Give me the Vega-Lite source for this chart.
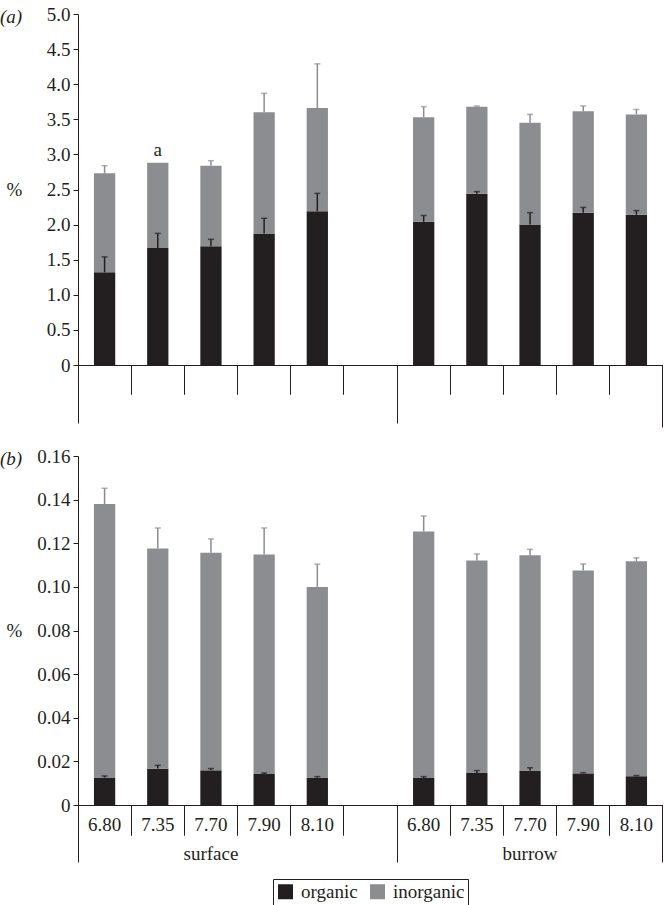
{
  "$schema": "https://vega.github.io/schema/vega-lite/v6.json",
  "background": "white",
  "padding": {"left": 0, "top": 5, "right": 0, "bottom": 0},
  "spacing": 19,
  "config": {
    "font": "Liberation Serif",
    "view": {"stroke": null},
    "axis": {"labelFont": "Liberation Serif", "labelFontSize": 19, "labelColor": "#231f20", "domainColor": "#231f20", "tickColor": "#231f20", "grid": false, "titleFont": "Liberation Serif", "titleFontWeight": "normal", "titleFontSize": 19, "titleColor": "#231f20", "labelOverlap": false},
    "title": {"font": "Liberation Serif", "fontSize": 19, "fontWeight": "normal", "fontStyle": "italic", "color": "#231f20"},
    "tick": {"thickness": 1.5}
  },
  "datasets": {
    "carbonA": [
      {"slot": "surface|6.80", "component": "organic", "lo": 0, "hi": 1.32, "err": 1.54},
      {"slot": "surface|6.80", "component": "inorganic", "lo": 1.32, "hi": 2.73, "err": 2.84},
      {"slot": "surface|7.35", "component": "organic", "lo": 0, "hi": 1.665, "err": 1.875},
      {"slot": "surface|7.35", "component": "inorganic", "lo": 1.665, "hi": 2.88},
      {"slot": "surface|7.70", "component": "organic", "lo": 0, "hi": 1.69, "err": 1.79},
      {"slot": "surface|7.70", "component": "inorganic", "lo": 1.69, "hi": 2.84, "err": 2.91},
      {"slot": "surface|7.90", "component": "organic", "lo": 0, "hi": 1.875, "err": 2.09},
      {"slot": "surface|7.90", "component": "inorganic", "lo": 1.875, "hi": 3.6, "err": 3.87},
      {"slot": "surface|8.10", "component": "organic", "lo": 0, "hi": 2.19, "err": 2.445},
      {"slot": "surface|8.10", "component": "inorganic", "lo": 2.19, "hi": 3.66, "err": 4.29},
      {"slot": "burrow|6.80", "component": "organic", "lo": 0, "hi": 2.04, "err": 2.13},
      {"slot": "burrow|6.80", "component": "inorganic", "lo": 2.04, "hi": 3.53, "err": 3.68},
      {"slot": "burrow|7.35", "component": "organic", "lo": 0, "hi": 2.44, "err": 2.47},
      {"slot": "burrow|7.35", "component": "inorganic", "lo": 2.44, "hi": 3.68, "err": 3.69},
      {"slot": "burrow|7.70", "component": "organic", "lo": 0, "hi": 2.0, "err": 2.17},
      {"slot": "burrow|7.70", "component": "inorganic", "lo": 2.0, "hi": 3.45, "err": 3.57},
      {"slot": "burrow|7.90", "component": "organic", "lo": 0, "hi": 2.17, "err": 2.245},
      {"slot": "burrow|7.90", "component": "inorganic", "lo": 2.17, "hi": 3.615, "err": 3.69},
      {"slot": "burrow|8.10", "component": "organic", "lo": 0, "hi": 2.14, "err": 2.2},
      {"slot": "burrow|8.10", "component": "inorganic", "lo": 2.14, "hi": 3.57, "err": 3.64}
    ],
    "carbonB": [
      {"slot": "surface|6.80", "component": "organic", "lo": 0, "hi": 0.0126, "err": 0.0133},
      {"slot": "surface|6.80", "component": "inorganic", "lo": 0.0126, "hi": 0.138, "err": 0.1452},
      {"slot": "surface|7.35", "component": "organic", "lo": 0, "hi": 0.0167, "err": 0.0182},
      {"slot": "surface|7.35", "component": "inorganic", "lo": 0.0167, "hi": 0.1176, "err": 0.127},
      {"slot": "surface|7.70", "component": "organic", "lo": 0, "hi": 0.0159, "err": 0.0167},
      {"slot": "surface|7.70", "component": "inorganic", "lo": 0.0159, "hi": 0.1157, "err": 0.122},
      {"slot": "surface|7.90", "component": "organic", "lo": 0, "hi": 0.0142, "err": 0.0147},
      {"slot": "surface|7.90", "component": "inorganic", "lo": 0.0142, "hi": 0.1148, "err": 0.127},
      {"slot": "surface|8.10", "component": "organic", "lo": 0, "hi": 0.0126, "err": 0.013},
      {"slot": "surface|8.10", "component": "inorganic", "lo": 0.0126, "hi": 0.1, "err": 0.1104},
      {"slot": "burrow|6.80", "component": "organic", "lo": 0, "hi": 0.0124, "err": 0.013},
      {"slot": "burrow|6.80", "component": "inorganic", "lo": 0.0124, "hi": 0.1254, "err": 0.1325},
      {"slot": "burrow|7.35", "component": "organic", "lo": 0, "hi": 0.0147, "err": 0.0158},
      {"slot": "burrow|7.35", "component": "inorganic", "lo": 0.0147, "hi": 0.1121, "err": 0.1151},
      {"slot": "burrow|7.70", "component": "organic", "lo": 0, "hi": 0.0158, "err": 0.0171},
      {"slot": "burrow|7.70", "component": "inorganic", "lo": 0.0158, "hi": 0.1145, "err": 0.1172},
      {"slot": "burrow|7.90", "component": "organic", "lo": 0, "hi": 0.0145, "err": 0.0148},
      {"slot": "burrow|7.90", "component": "inorganic", "lo": 0.0145, "hi": 0.1075, "err": 0.1105},
      {"slot": "burrow|8.10", "component": "organic", "lo": 0, "hi": 0.0132, "err": 0.0135},
      {"slot": "burrow|8.10", "component": "inorganic", "lo": 0.0132, "hi": 0.1117, "err": 0.1133}
    ],
    "notesA": [
      {"slot": "surface|7.35", "y": 2.88, "note": "a"}
    ]
  },
  "vconcat": [
    {
      "width": 585,
      "height": 351,
      "title": {"text": "(a)", "anchor": "start", "frame": "group", "dx": -78, "baseline": "middle", "offset": 0, "dy": 31},
      "data": {"name": "carbonA"},
      "resolve": {"axis": {"x": "independent"}},
      "layer": [
        {
          "mark": {"type": "bar", "width": {"band": 0.4}},
          "encoding": {
            "x": {"field": "slot", "type": "nominal", "title": null,
              "scale": {"domain": ["surface|6.80", "surface|7.35", "surface|7.70", "surface|7.90", "surface|8.10", "gap|", "burrow|6.80", "burrow|7.35", "burrow|7.70", "burrow|7.90", "burrow|8.10"], "paddingInner": 0, "paddingOuter": 0},
              "axis": {"orient": "bottom", "bandPosition": 0, "labels": false, "domain": true, "ticks": true, "title": null,
                "tickSize": {"condition": {"test": "datum.value === 'surface|6.80' || datum.value === 'burrow|6.80'", "value": 58}, "value": 29}}},
            "y": {"field": "lo", "type": "quantitative", "title": "%", "scale": {"domain": [0, 5], "nice": false},
              "axis": {"tickCount": 10, "labelOverlap": false, "labelBound": false, "labelExpr": "datum.value == 0 ? '0' : format(datum.value, '.1f')", "tickSize": 5, "labelPadding": 3, "titleAngle": 0, "titleX": -64, "titleY": 175, "titleAlign": "center", "titleBaseline": "middle"}},
            "y2": {"field": "hi"},
            "color": {"field": "component", "type": "nominal",
              "scale": {"domain": ["organic", "inorganic"], "range": ["#231f20", "#8c8d91"]},
              "legend": {"orient": "none", "legendX": 195, "legendY": 865, "direction": "horizontal", "title": null, "symbolType": "square", "symbolSize": 225, "symbolStrokeWidth": 0, "symbolOpacity": 1, "labelFontSize": 19, "labelFont": "Liberation Serif", "labelColor": "#231f20", "strokeColor": "#231f20", "padding": 3, "columnPadding": 10, "labelOffset": 6}}
          }
        },
        {
          "transform": [{"filter": "isValid(datum.err)"}],
          "mark": {"type": "rule", "strokeWidth": 1.5},
          "encoding": {
            "x": {"field": "slot", "type": "nominal", "title": null,
              "scale": {"domain": ["surface|6.80", "surface|7.35", "surface|7.70", "surface|7.90", "surface|8.10", "gap|", "burrow|6.80", "burrow|7.35", "burrow|7.70", "burrow|7.90", "burrow|8.10"]},
              "axis": {"orient": "bottom", "bandPosition": 1, "labels": false, "domain": false, "ticks": true, "title": null,
                "tickSize": {"condition": {"test": "datum.value === 'burrow|8.10'", "value": 62}, "value": 29}}},
            "y": {"field": "hi", "type": "quantitative", "title": "%"},
            "y2": {"field": "err"},
            "color": {"field": "component", "type": "nominal", "legend": null}
          }
        },
        {
          "transform": [{"filter": "isValid(datum.err)"}],
          "mark": {"type": "tick", "size": 6, "thickness": 1.5},
          "encoding": {
            "x": {"field": "slot", "type": "nominal", "axis": null,
              "scale": {"domain": ["surface|6.80", "surface|7.35", "surface|7.70", "surface|7.90", "surface|8.10", "gap|", "burrow|6.80", "burrow|7.35", "burrow|7.70", "burrow|7.90", "burrow|8.10"]}},
            "y": {"field": "err", "type": "quantitative", "title": "%"},
            "color": {"field": "component", "type": "nominal", "legend": null}
          }
        },
        {
          "data": {"name": "notesA"},
          "mark": {"type": "text", "baseline": "bottom", "dy": -3, "fontSize": 19, "font": "Liberation Serif", "color": "#231f20"},
          "encoding": {
            "x": {"field": "slot", "type": "nominal", "axis": null,
              "scale": {"domain": ["surface|6.80", "surface|7.35", "surface|7.70", "surface|7.90", "surface|8.10", "gap|", "burrow|6.80", "burrow|7.35", "burrow|7.70", "burrow|7.90", "burrow|8.10"]}},
            "y": {"field": "y", "type": "quantitative", "title": "%"},
            "text": {"field": "note"}
          }
        }
      ]
    },
    {
      "width": 585,
      "height": 349,
      "title": {"text": "(b)", "anchor": "start", "frame": "group", "dx": -78, "baseline": "middle", "offset": 0, "dy": 31},
      "data": {"name": "carbonB"},
      "resolve": {"axis": {"x": "independent"}},
      "layer": [
        {
          "mark": {"type": "bar", "width": {"band": 0.4}},
          "encoding": {
            "x": {"field": "slot", "type": "nominal", "title": null,
              "scale": {"domain": ["surface|6.80", "surface|7.35", "surface|7.70", "surface|7.90", "surface|8.10", "gap|", "burrow|6.80", "burrow|7.35", "burrow|7.70", "burrow|7.90", "burrow|8.10"], "paddingInner": 0, "paddingOuter": 0},
              "axis": {"orient": "bottom", "bandPosition": 0, "labels": false, "domain": true, "ticks": true, "title": null,
                "tickSize": {"condition": {"test": "datum.value === 'surface|6.80' || datum.value === 'burrow|6.80'", "value": 57}, "value": 30}}},
            "y": {"field": "lo", "type": "quantitative", "title": "%", "scale": {"domain": [0, 0.16]},
              "axis": {"values": [0, 0.02, 0.04, 0.06, 0.08, 0.1, 0.12, 0.14, 0.16], "labelOverlap": false, "labelExpr": "datum.value == 0 ? '0' : format(datum.value, '.2f')", "tickSize": 5, "labelPadding": 3, "titleAngle": 0, "titleX": -64, "titleY": 174, "titleAlign": "center", "titleBaseline": "middle"}},
            "y2": {"field": "hi"},
            "color": {"field": "component", "type": "nominal",
              "scale": {"domain": ["organic", "inorganic"], "range": ["#231f20", "#8c8d91"]}}
          }
        },
        {
          "transform": [{"filter": "isValid(datum.err) && datum.component === 'organic'"}],
          "mark": {"type": "rule", "strokeWidth": 1.5},
          "encoding": {
            "x": {"field": "slot", "type": "nominal", "title": null,
              "scale": {"domain": ["surface|6.80", "surface|7.35", "surface|7.70", "surface|7.90", "surface|8.10", "gap|", "burrow|6.80", "burrow|7.35", "burrow|7.70", "burrow|7.90", "burrow|8.10"]},
              "axis": {"orient": "bottom", "bandPosition": 1, "labels": false, "domain": false, "ticks": true, "title": null,
                "tickSize": {"condition": {"test": "datum.value === 'burrow|8.10'", "value": 57}, "value": 30}}},
            "y": {"field": "hi", "type": "quantitative", "title": "%"},
            "y2": {"field": "err"},
            "color": {"field": "component", "type": "nominal", "legend": null}
          }
        },
        {
          "transform": [{"filter": "isValid(datum.err) && datum.component === 'inorganic'"}],
          "mark": {"type": "rule", "strokeWidth": 1.5},
          "encoding": {
            "x": {"field": "slot", "type": "nominal", "title": null,
              "scale": {"domain": ["surface|6.80", "surface|7.35", "surface|7.70", "surface|7.90", "surface|8.10", "gap|", "burrow|6.80", "burrow|7.35", "burrow|7.70", "burrow|7.90", "burrow|8.10"]},
              "axis": {"orient": "bottom", "bandPosition": 0.5, "labels": true, "domain": false, "ticks": false, "tickSize": 0, "title": null, "labelAngle": 0, "labelPadding": 10,
                "labelExpr": "split(datum.value, '|')[1]"}},
            "y": {"field": "hi", "type": "quantitative", "title": "%"},
            "y2": {"field": "err"},
            "color": {"field": "component", "type": "nominal", "legend": null}
          }
        },
        {
          "transform": [{"filter": "isValid(datum.err)"}],
          "mark": {"type": "tick", "size": 6, "thickness": 1.5},
          "encoding": {
            "x": {"field": "slot", "type": "nominal", "title": null,
              "scale": {"domain": ["surface|6.80", "surface|7.35", "surface|7.70", "surface|7.90", "surface|8.10", "gap|", "burrow|6.80", "burrow|7.35", "burrow|7.70", "burrow|7.90", "burrow|8.10"]},
              "axis": {"orient": "bottom", "bandPosition": 0.5, "labels": true, "domain": false, "ticks": false, "tickSize": 0, "title": null, "labelAngle": 0, "labelPadding": 39,
                "labelExpr": "datum.value === 'surface|7.70' ? 'surface' : (datum.value === 'burrow|7.70' ? 'burrow' : '')"}},
            "y": {"field": "err", "type": "quantitative", "title": "%"},
            "color": {"field": "component", "type": "nominal", "legend": null}
          }
        }
      ]
    }
  ]
}
